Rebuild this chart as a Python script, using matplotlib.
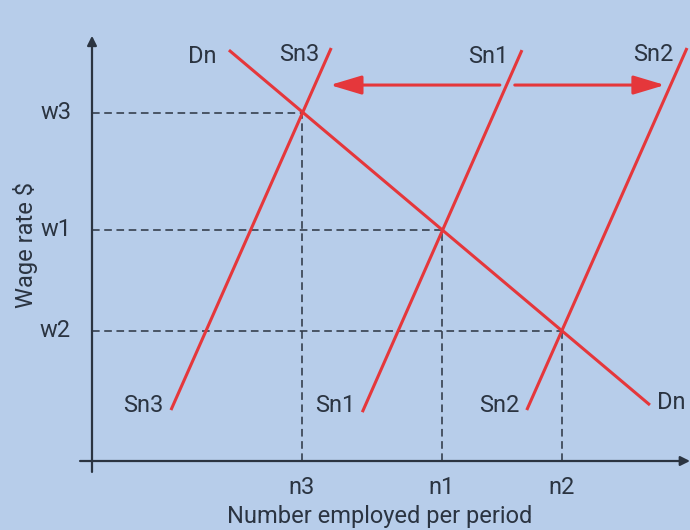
import matplotlib.pyplot as plt

# equilibrium points (employment n, wage w)
n_labels = ["n3", "n1", "n2"]
n_vals = [35.1, 58.5, 78.6]
w_labels = ["w3", "w1", "w2"]
w_vals = [82.7, 54.9, 30.9]

# curve end points: (x_start, x_end), (y_start, y_end)
dn_x = [22.9, 93.3]
dn_y = [97.6, 13.3]
sn3_x = [13.2, 40.0]
sn3_y = [12.1, 98.1]
sn1_x = [45.2, 71.9]
sn1_y = [11.6, 97.6]
sn2_x = [72.7, 99.5]
sn2_y = [12.1, 98.1]

# shift arrows
arrow_y = 89.3
left_arrow = [68.2, 39.8]
right_arrow = [70.7, 95.8]

bg = "#b7cdea"
red = "#e5373b"
ink = "#2b3441"

plt.rcParams['font.family'] = ['Roboto', 'DejaVu Sans']

fig = plt.figure(figsize=(6.9, 5.3), dpi=100, facecolor=bg)
ax = fig.add_axes([92 / 690, 69 / 530, 598 / 690, 421 / 530])
ax.set_facecolor(bg)
ax.set_xlim(0, 100)
ax.set_ylim(0, 100)
for s in ax.spines.values():
    s.set_visible(False)
ax.set_xticks([])
ax.set_yticks([])

# axes with arrows
ax.annotate("", xy=(0, 101), xytext=(0, -2.6), annotation_clip=False,
            arrowprops=dict(arrowstyle="-|>", color=ink, lw=1.6,
                            mutation_scale=14, shrinkA=0, shrinkB=0))
ax.annotate("", xy=(100, 0), xytext=(-2, 0), annotation_clip=False,
            arrowprops=dict(arrowstyle="-|>", color=ink, lw=1.6,
                            mutation_scale=14, shrinkA=0, shrinkB=0))

# dashed guides
for n, w in zip(n_vals, w_vals):
    ax.plot([0, n], [w, w], color=ink, lw=1.1, ls=(0, (5, 3)))
    ax.plot([n, n], [0, w], color=ink, lw=1.1, ls=(0, (5, 3)))

# curves
for xs, ys in [(dn_x, dn_y), (sn3_x, sn3_y), (sn1_x, sn1_y), (sn2_x, sn2_y)]:
    ax.plot(xs, ys, color=red, lw=2.2, clip_on=False, solid_capstyle="butt")

# shift arrows
for a in (left_arrow, right_arrow):
    ax.annotate("", xy=(a[1], arrow_y), xytext=(a[0], arrow_y), annotation_clip=False,
                arrowprops=dict(arrowstyle="-|>,head_length=1.2,head_width=0.36",
                                color=red, lw=2.2, mutation_scale=16,
                                shrinkA=0, shrinkB=0))

fs = 17
# curve labels
ax.text(dn_x[0] - 2, dn_y[0] - 1.5, "Dn", color=ink, fontsize=fs, ha="right", va="center")
ax.text(sn3_x[1] - 2.0, sn3_y[1] - 1.5, "Sn3", color=ink, fontsize=fs, ha="right", va="center")
ax.text(sn1_x[1] - 2.2, sn1_y[1] - 1.5, "Sn1", color=ink, fontsize=fs, ha="right", va="center")
ax.text(sn2_x[1] - 2.3, sn2_y[1] - 1.5, "Sn2", color=ink, fontsize=fs, ha="right", va="center")
ax.text(sn3_x[0] - 1.2, sn3_y[0] + 1, "Sn3", color=ink, fontsize=fs, ha="right", va="center")
ax.text(sn1_x[0] - 1.2, sn1_y[0] + 1.5, "Sn1", color=ink, fontsize=fs, ha="right", va="center")
ax.text(sn2_x[0] - 1.2, sn2_y[0] + 1, "Sn2", color=ink, fontsize=fs, ha="right", va="center")
ax.text(dn_x[1] + 1.2, dn_y[1] + 0.5, "Dn", color=ink, fontsize=fs, ha="left", va="center",
        clip_on=False)

# tick labels
for n, lab in zip(n_vals, n_labels):
    ax.text(n, -3.5, lab, color=ink, fontsize=fs, ha="center", va="top")
for w, lab in zip(w_vals, w_labels):
    ax.text(-3.5, w, lab, color=ink, fontsize=fs, ha="right", va="center")

fig.text(380 / 690, 1 - 516 / 530, "Number employed per period", color=ink,
         fontsize=fs, ha="center", va="center")
fig.text(25 / 690, 1 - 245 / 530, "Wage rate $", color=ink, fontsize=fs,
         ha="center", va="center", rotation=90)

fig.savefig("out.png", dpi=100, facecolor=bg)
